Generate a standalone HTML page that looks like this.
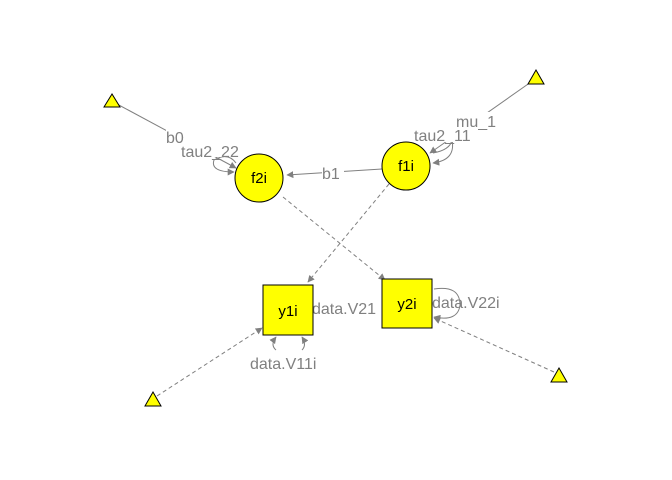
<!DOCTYPE html>
<html><head><meta charset="utf-8"><style>html,body{margin:0;padding:0;background:#fff}svg{display:block}</style></head>
<body>
<svg width="672" height="480" viewBox="0 0 672 480" xmlns="http://www.w3.org/2000/svg" font-family="Liberation Sans, sans-serif">
<defs>
<marker id="a" viewBox="0 0 10 10" refX="9" refY="5" markerWidth="7" markerHeight="7" markerUnits="userSpaceOnUse" orient="auto"><path d="M0,0L10,5L0,10z" fill="#808080"/></marker>
</defs>
<g stroke="#808080" fill="none" stroke-width="1">
<line x1="117" y1="104" x2="236" y2="168" marker-end="url(#a)"/>
<line x1="531" y1="82" x2="430" y2="153" marker-end="url(#a)"/>
<line x1="382" y1="169" x2="287" y2="175" marker-end="url(#a)"/>
<path d="M236,163 Q228,152 214,160 Q210,172 234,172" marker-end="url(#a)"/>
<path d="M433,153 Q450,150 452,140 Q456,160 433,163" marker-end="url(#a)"/>
<line x1="389" y1="184" x2="308" y2="282" stroke-dasharray="4,3" marker-end="url(#a)"/>
<line x1="283" y1="197" x2="385" y2="280" stroke-dasharray="4,3" marker-end="url(#a)"/>
<line x1="157" y1="396" x2="262" y2="328" stroke-dasharray="4,3" marker-end="url(#a)"/>
<line x1="554" y1="372" x2="434" y2="318" stroke-dasharray="4,3" marker-end="url(#a)"/>
<path d="M276,350 Q270,345 276,337" marker-end="url(#a)"/>
<path d="M302,350 Q307,345 302,337" marker-end="url(#a)"/>
<path d="M434,289 Q460,285 460,305 Q458,322 434,317" marker-end="url(#a)"/>
</g>
<g fill="#fff"><rect x="166" y="128" width="24" height="16"/><rect x="182" y="141" width="66" height="16"/><rect x="322" y="164" width="22" height="16"/><rect x="455" y="112" width="46" height="16"/><rect x="414" y="126" width="66" height="16"/></g>
<g fill="#808080" font-size="16">
<text x="166" y="143">b0</text>
<text x="181" y="157">tau2_22</text>
<text x="322" y="179">b1</text>
<text x="456" y="127">mu_1</text>
<text x="414" y="141">tau2_11</text>
<text x="312" y="314">data.V21</text>
<text x="432" y="308">data.V22i</text>
<text x="250" y="369">data.V11i</text>
</g>
<g fill="#ffff00" stroke="#000" stroke-width="1">
<circle cx="259" cy="178" r="24"/>
<circle cx="406" cy="166" r="24"/>
<rect x="263" y="285" width="50" height="50"/>
<rect x="382" y="279" width="50" height="49"/>
<polygon points="112,94 104,107 120,107"/>
<polygon points="536,70 528,84 544,84"/>
<polygon points="153,392 145,406 161,406"/>
<polygon points="559,368 551,382 567,382"/>
</g>
<g font-size="15" text-anchor="middle" fill="#000">
<text x="259" y="183">f2i</text>
<text x="406" y="171">f1i</text>
<text x="288" y="316">y1i</text>
<text x="407" y="309">y2i</text>
</g>
</svg>
</body></html>
